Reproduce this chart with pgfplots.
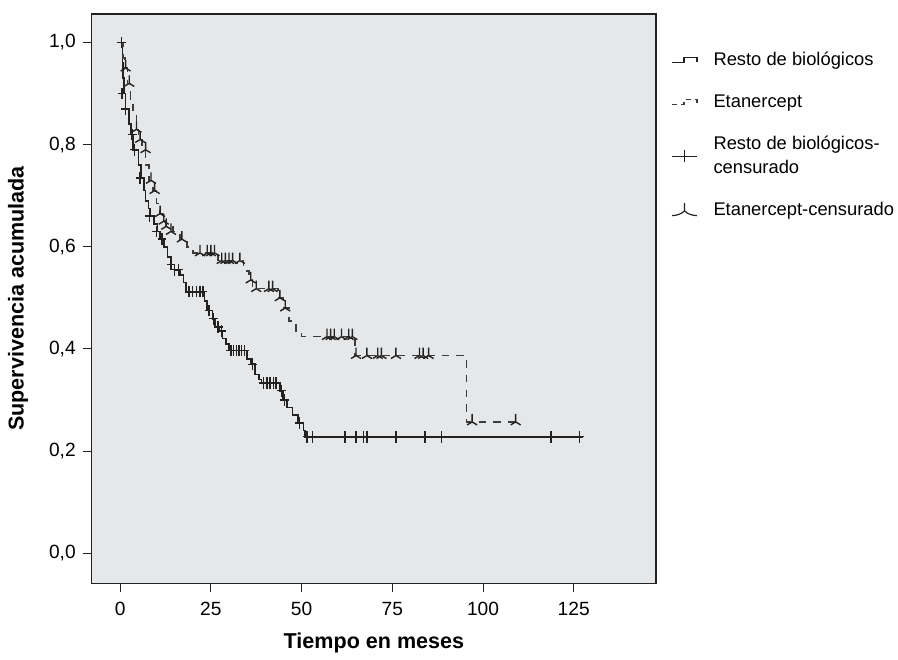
\documentclass[border=0pt]{standalone}
\usepackage{fontspec}
\setmainfont{Liberation Sans}
\usepackage{pgfplots}
\pgfplotsset{compat=1.18}
\definecolor{bgc}{HTML}{E6E7E9}
\definecolor{lc}{HTML}{222222}
\definecolor{dc}{HTML}{3C3C3C}

\pgfdeclareplotmark{invy}{%
  \pgfpathmoveto{\pgfqpoint{0pt}{4pt}}%
  \pgfpathlineto{\pgfqpoint{0pt}{0pt}}%
  \pgfpathmoveto{\pgfqpoint{-2.5pt}{-1.5pt}}%
  \pgfpathlineto{\pgfqpoint{0pt}{0pt}}%
  \pgfpathlineto{\pgfqpoint{2.5pt}{-1.5pt}}%
  \pgfusepathqstroke}
\pgfdeclareplotmark{cplus}{%
  \pgfpathmoveto{\pgfqpoint{0pt}{-2.9pt}}%
  \pgfpathlineto{\pgfqpoint{0pt}{2.9pt}}%
  \pgfpathmoveto{\pgfqpoint{-2.2pt}{0pt}}%
  \pgfpathlineto{\pgfqpoint{2.2pt}{0pt}}%
  \pgfusepathqstroke}

\begin{document}
\begin{tikzpicture}
\begin{axis}[
  at={(0,0)}, anchor=south west,
  scale only axis, width=283pt, height=285.5pt,
  xmin=-7.84, xmax=147.7, ymin=-0.059, ymax=1.056,
  axis background/.style={fill=bgc},
  axis line style={lc, line width=0.6pt},
  xtick={0,25,50,75,100,125}, ytick={0,0.2,0.4,0.6,0.8,1.0},
  tick align=outside, major tick length=4.5pt,
  xtick pos=bottom, ytick pos=left,
  tick style={lc, line width=0.5pt},
  yticklabel style={/pgf/number format/.cd, use comma, fixed, fixed zerofill, precision=1},
  xticklabel style={yshift=-1.5pt},
  /pgf/number format/assume math mode=true,
  ticklabel style={font=\fontsize{9.6}{11}\selectfont},
  xlabel={Tiempo en meses}, ylabel={Supervivencia acumulada},
  label style={font=\fontsize{10.8}{13}\selectfont\bfseries},
  xlabel style={at={(axis description cs:0.5,-0.104)}, anchor=center},
  ylabel style={at={(axis description cs:-0.1307,0.5)}, anchor=center},
  legend style={at={(1,1)}, anchor=north west, xshift=7.5pt, yshift=-17pt,
    inner xsep=0pt, inner ysep=0pt,
    draw=none, fill=none, font=\fontsize{9.2}{12}\selectfont, row sep=9pt, column sep=6pt,
    cells={anchor=west, align=left}},
  legend cell align=left,
]
\addplot[const plot, lc, line width=0.8pt, mark=none,
  legend image code/.code={\draw[lc, line width=0.6pt] (0pt,-1.2pt) -- (6pt,-1.2pt) -- (6pt,1.3pt) -- (12.5pt,1.3pt) -- (12.5pt,-0.6pt);}]
coordinates {
(0,1.0)(0.6,0.96)(0.8,0.93)(1,0.90)(1.5,0.87)(2.5,0.84)(3,0.82)(3.5,0.79)(5,0.76)(5.8,0.735)
(6.5,0.71)(7,0.69)(7.8,0.675)(8.3,0.66)(9.3,0.645)(10.3,0.63)(11,0.615)(12,0.60)(13,0.58)(14,0.565)
(15,0.555)(16.5,0.545)(17.5,0.53)(18.2,0.512)(23.2,0.494)(24,0.475)(25.4,0.459)(26.2,0.443)(27.3,0.435)
(28.2,0.42)(29.2,0.41)(30,0.397)(35,0.38)(36.1,0.37)(37.2,0.35)(38.3,0.34)(39,0.333)(44,0.318)
(44.8,0.30)(46,0.285)(47.5,0.27)(49,0.255)(50.5,0.24)(51,0.228)(127.5,0.228)
};
\addlegendentry{Resto de biológicos}
\addplot[const plot, dc, line width=0.8pt, mark=none, dash pattern=on 3.8pt off 3.6pt,
  legend image code/.code={\draw[dc, line width=0.6pt, dash pattern=on 2.5pt off 2.2pt] (0pt,-1.2pt) -- (6pt,-1.2pt) -- (6pt,1.3pt) -- (12.5pt,1.3pt) -- (12.5pt,-0.6pt);}]
coordinates {
(0,1.0)(0.8,0.97)(1.3,0.95)(2,0.92)(2.8,0.89)(3.5,0.86)(4.5,0.83)(5,0.81)(6,0.79)(7,0.76)(8,0.73)
(9,0.71)(10,0.685)(10.8,0.665)(11.5,0.65)(12.5,0.64)(14.5,0.63)(16.5,0.615)(18.5,0.60)(20,0.588)
(27,0.573)(34,0.553)(35.5,0.535)(36.5,0.518)(43.5,0.50)(45,0.48)(46.5,0.455)(48.5,0.435)(50,0.424)
(64.8,0.387)(95.5,0.257)(109.5,0.257)
};
\addlegendentry{Etanercept}
\addplot[only marks, mark=cplus, mark options={lc, line width=0.7pt, solid},
  legend image code/.code={\draw[lc, line width=0.6pt] (0pt,0pt) -- (12.5pt,0pt) (6.25pt,-3pt) -- (6.25pt,3pt);}]
coordinates {
(0.3,1.0)(0.5,0.90)(1.5,0.87)(3.3,0.82)(4,0.79)(5.5,0.735)(8,0.66)(10,0.63)(11.5,0.615)
(14,0.565)(15,0.555)(16,0.555)(19,0.512)(20,0.512)(21,0.512)(22,0.512)(22.8,0.512)
(24.5,0.475)(25.8,0.459)(27,0.443)(28,0.435)
(30.5,0.397)(31.3,0.397)(32,0.397)(32.8,0.397)(33.5,0.397)(34.3,0.397)(36.5,0.37)
(39.5,0.333)(40.5,0.333)(41.3,0.333)(42.2,0.333)(43,0.333)(44.4,0.318)(45.3,0.30)(49.5,0.255)
(51.5,0.228)(53,0.228)(62,0.228)(65,0.228)(67,0.228)(68,0.228)(76,0.228)(84,0.228)(88.5,0.228)
(118.7,0.228)(126.6,0.228)
};
\addlegendentry{Resto de biológicos-\\censurado}
\addplot[only marks, mark=invy, mark options={lc, line width=0.7pt, solid},
  legend image code/.code={\draw[lc, line width=0.6pt] (0pt,-2.5pt) .. controls (3pt,-2.3pt) and (5pt,-1.5pt) .. (6.25pt,0pt) .. controls (7.5pt,-1.5pt) and (9.5pt,-2.3pt) .. (12.5pt,-2.5pt) (6.25pt,0pt) -- (6.25pt,3.8pt);}]
coordinates {
(1.5,0.95)(2.5,0.92)(4.5,0.83)(5.5,0.81)(7,0.79)(8.5,0.73)(9.5,0.71)(11,0.665)(12,0.65)
(12.7,0.64)(14,0.63)(17,0.615)(22,0.588)(24,0.588)(25,0.588)(26,0.588)
(28,0.573)(29,0.573)(30,0.573)(31,0.573)(33,0.573)(36,0.535)(37.5,0.518)(41,0.518)(42,0.518)
(44,0.50)(45.5,0.48)(57,0.424)(58,0.424)(59,0.424)(61,0.424)(63,0.424)(64,0.424)
(65,0.387)(68,0.387)(71,0.387)(72,0.387)(76,0.387)(82.5,0.387)(83.5,0.387)(85,0.387)
(97,0.257)(109,0.257)
};
\addlegendentry{Etanercept-censurado}
\end{axis}
\path (-46pt,-34pt) rectangle (403pt,292.5pt);
\end{tikzpicture}
\end{document}
